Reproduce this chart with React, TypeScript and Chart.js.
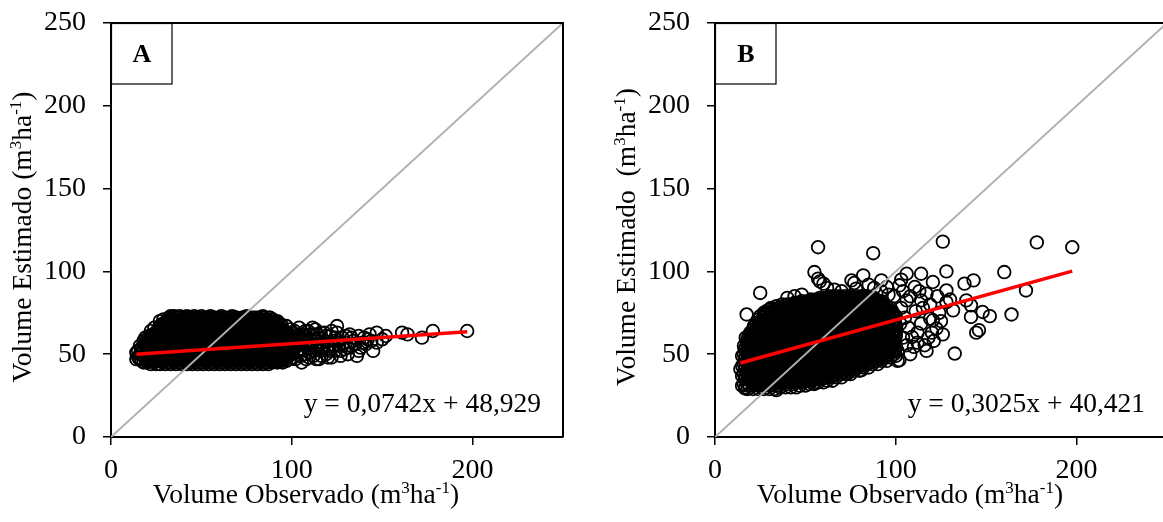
import React, { useEffect, useRef } from "react";
import { Chart, registerables } from "chart.js";

Chart.register(...registerables);

const FONT = '"Liberation Serif", "Times New Roman", serif';

// Axes
const axisMin = 0;
const axisMax = 250;
const yTickValues = [0, 50, 100, 150, 200, 250];
const xTickValues = [0, 100, 200];

// ---------- Panel A ----------
// dense cloud: [observed, [estimated values...]]
const denseA: [number, number[]][] = [
  [14, [47, 51]], [15, [48, 52]], [16, [47, 50, 55]], [17, [46, 51, 54]], [18, [45, 49, 53, 58]],
  [19, [47, 52, 56, 60]], [20, [45, 50, 54, 59]], [21, [46, 49, 57, 61]], [22, [44, 48, 53, 58, 64]],
  [23, [46, 51, 55, 62]], [24, [45, 49, 56, 60, 66]], [25, [44, 52, 58, 63]], [26, [47, 50, 55, 61, 65]],
  [27, [44, 49, 54, 59, 67, 70]], [28, [46, 52, 57, 63, 68]], [29, [45, 50, 55, 61, 66, 71]],
  [30, [44, 48, 53, 59, 64, 69]], [31, [47, 51, 57, 62, 70]], [32, [45, 49, 54, 60, 66, 72]],
  [33, [44, 50, 56, 63, 68, 73]], [34, [46, 52, 58, 61, 67, 71]], [35, [45, 48, 55, 60, 65, 70, 73]],
  [36, [44, 51, 57, 62, 69]], [37, [47, 53, 59, 64, 68, 72]], [38, [45, 49, 54, 61, 66, 73]],
  [39, [44, 50, 56, 63, 70]], [40, [46, 52, 58, 60, 67, 71]], [41, [45, 48, 55, 62, 65, 72]],
  [42, [44, 51, 57, 61, 68, 73]], [43, [47, 53, 59, 64, 70]], [44, [45, 49, 54, 60, 66, 72]],
  [45, [44, 50, 56, 63, 69]], [46, [46, 52, 58, 62, 67, 73]], [47, [45, 48, 55, 61, 65, 71]],
  [48, [44, 51, 57, 64, 70]], [49, [47, 53, 59, 63, 68, 72]], [50, [45, 49, 54, 60, 66, 73]],
  [51, [44, 50, 56, 62, 69]], [52, [46, 52, 58, 61, 67, 71]], [53, [45, 48, 55, 63, 65, 72]],
  [54, [44, 51, 57, 60, 68]], [55, [47, 53, 59, 64, 70, 73]], [56, [45, 49, 54, 62, 66]],
  [57, [44, 50, 56, 61, 69, 72]], [58, [46, 52, 58, 63, 67]], [59, [45, 48, 55, 60, 65, 71]],
  [60, [44, 51, 57, 64, 70]], [61, [47, 53, 59, 62, 68, 73]], [62, [45, 49, 54, 61, 66]],
  [63, [44, 50, 56, 63, 69, 72]], [64, [46, 52, 58, 60, 67]], [65, [45, 48, 55, 62, 65, 71]],
  [66, [44, 51, 57, 64, 70]], [67, [47, 53, 59, 61, 68, 73]], [68, [45, 49, 54, 63, 66]],
  [69, [44, 50, 56, 60, 69, 72]], [70, [46, 52, 58, 62, 67]], [71, [45, 48, 55, 64, 65, 71]],
  [72, [44, 51, 57, 61, 70]], [73, [47, 53, 59, 63, 68, 72]], [74, [45, 49, 54, 60, 66]],
  [75, [44, 50, 56, 62, 69, 73]], [76, [46, 52, 58, 64, 67]], [77, [45, 48, 55, 61, 65, 71]],
  [78, [44, 51, 57, 63, 70]], [79, [47, 53, 59, 60, 68]], [80, [45, 49, 54, 62, 66, 72]],
  [81, [44, 50, 56, 64, 69]], [82, [46, 52, 58, 61, 67, 71]], [83, [45, 48, 55, 63, 65]],
  [84, [44, 51, 57, 60, 70, 73]], [85, [47, 53, 59, 62, 68]], [86, [45, 49, 54, 64, 66, 71]],
  [87, [44, 50, 56, 61, 69]], [88, [46, 52, 58, 63, 67, 72]], [89, [45, 48, 55, 60, 65]],
  [90, [46, 51, 57, 62, 69]], [91, [47, 53, 59, 64, 67]], [92, [45, 49, 54, 61, 66, 70]],
  [93, [46, 50, 56, 63]], [94, [48, 52, 58, 60, 68]], [95, [45, 55, 62, 65]],
  [96, [47, 51, 57, 64]], [97, [46, 53, 59, 67]], [98, [49, 55, 61]], [99, [47, 52, 58, 65]],
  [100, [50, 56, 63]],
];
const denseAHalf: [number, number[]][] = [
  [20.5, [47, 53, 57]], [21.5, [46, 50, 56, 59]], [22.5, [48, 54, 60]], [23.5, [47, 53, 59]],
  [24.5, [46, 50, 56, 62]], [25.5, [48, 54, 60]], [26.5, [47, 53, 59, 63]], [27.5, [46, 50, 56, 62, 66]],
  [28.5, [48, 54, 60, 66]], [29.5, [47, 53, 59, 65, 69]], [30.5, [46, 50, 56, 62, 68]],
  [31.5, [48, 54, 60, 66, 70]], [32.5, [47, 53, 59, 65, 71]], [33.5, [46, 50, 56, 62, 68, 72]],
  [34.5, [48, 54, 60, 66, 70]], [35.5, [47, 53, 59, 65, 71]], [36.5, [46, 50, 56, 62, 68, 72]],
  [37.5, [48, 54, 60, 66, 70]], [38.5, [47, 53, 59, 65, 71]], [39.5, [46, 50, 56, 62, 68, 72]],
  [40.5, [48, 54, 60, 66, 70]], [41.5, [47, 53, 59, 65, 71]], [42.5, [46, 50, 56, 62, 68, 72]],
  [43.5, [48, 54, 60, 66, 70]], [44.5, [47, 53, 59, 65, 71]], [45.5, [46, 50, 56, 62, 68, 72]],
  [46.5, [48, 54, 60, 66, 70]], [47.5, [47, 53, 59, 65, 71]], [48.5, [46, 50, 56, 62, 68, 72]],
  [49.5, [48, 54, 60, 66, 70]], [50.5, [47, 53, 59, 65, 71]], [51.5, [46, 50, 56, 62, 68, 72]],
  [52.5, [48, 54, 60, 66, 70]], [53.5, [47, 53, 59, 65, 71]], [54.5, [46, 50, 56, 62, 68, 72]],
  [55.5, [48, 54, 60, 66, 70]], [56.5, [47, 53, 59, 65, 71]], [57.5, [46, 50, 56, 62, 68, 72]],
  [58.5, [48, 54, 60, 66, 70]], [59.5, [47, 53, 59, 65, 71]], [60.5, [46, 50, 56, 62, 68, 72]],
  [61.5, [48, 54, 60, 66, 70]], [62.5, [47, 53, 59, 65, 71]], [63.5, [46, 50, 56, 62, 68, 72]],
  [64.5, [48, 54, 60, 66, 70]], [65.5, [47, 53, 59, 65, 71]], [66.5, [46, 50, 56, 62, 68, 72]],
  [67.5, [48, 54, 60, 66, 70]], [68.5, [47, 53, 59, 65, 71]], [69.5, [46, 50, 56, 62, 68, 72]],
  [70.5, [48, 54, 60, 66, 70]], [71.5, [47, 53, 59, 65, 71]], [72.5, [46, 50, 56, 62, 68, 72]],
  [73.5, [48, 54, 60, 66, 70]], [74.5, [47, 53, 59, 65, 71]], [75.5, [46, 50, 56, 62, 68, 72]],
  [76.5, [48, 54, 60, 66, 70]], [77.5, [47, 53, 59, 65, 71]], [78.5, [46, 50, 56, 62, 68, 72]],
  [79.5, [48, 54, 60, 66, 70]], [80.5, [47, 53, 59, 65, 71]], [81.5, [46, 50, 56, 62, 68, 72]],
  [82.5, [48, 54, 60, 66, 70]], [83.5, [47, 53, 59, 65, 71]], [84.5, [46, 50, 56, 62, 68, 72]],
  [85.5, [48, 54, 60, 66, 70]], [86.5, [47, 53, 59, 65, 71]], [87.5, [46, 50, 56, 62, 68, 72]],
  [88.5, [48, 54, 60, 66, 70]], [89.5, [47, 53, 59, 65, 71]], [90.5, [46, 50, 56, 62, 68]],
  [91.5, [48, 54, 60, 66]], [92.5, [47, 53, 59, 65, 69]], [93.5, [47, 53, 59, 65]],
  [94.5, [46, 50, 56, 62, 67]], [95.5, [48, 54, 60, 64]], [96.5, [49, 55, 61]], [97.5, [51, 57, 63]],
];
// sparse points: [observed, estimated]
const sparseA: [number, number][] = [
  [101, 48], [102, 54], [102, 61], [103, 51], [104, 57], [104, 66], [105, 49], [106, 53], [106, 62],
  [107, 59], [108, 47], [108, 55], [109, 64], [110, 51], [111, 58], [112, 49], [112, 62], [113, 65],
  [114, 54], [115, 47], [115, 60], [116, 52], [117, 57], [118, 63], [119, 50], [120, 55], [121, 61],
  [122, 48], [123, 58], [124, 52], [125, 67], [125, 63], [126, 55], [127, 49], [128, 60], [129, 53],
  [130, 57], [131, 50], [132, 62], [133, 55], [134, 58], [136, 49], [137, 61], [138, 54], [140, 60],
  [141, 56], [143, 62], [144, 58], [145, 52], [147, 57], [147, 63], [150, 59], [152, 61], [161, 63],
  [164, 62], [172, 60], [178, 64], [197, 64],
  [100.5, 52], [101, 59], [101.5, 64], [102, 47], [103, 57], [103.5, 62], [104, 53], [105, 60],
  [105.5, 45], [106, 58], [107, 50], [107.5, 64], [108, 61], [109, 53], [109.5, 48], [110, 57],
  [110.5, 62], [111, 54], [111.5, 66], [112, 52], [113, 59], [113.5, 47], [114, 62], [115, 56],
  [116, 63], [116.5, 49], [117, 54], [118, 58], [119, 61], [119.5, 53], [120, 48], [121, 52],
  [122, 64], [123, 55], [124, 60], [126, 58], [127, 52], [128, 56], [130, 61], [131, 54], [133, 60],
  [135, 56], [137, 52], [139, 57], [142, 59],
];
const slopeA = 0.0742;
const interceptA = 48.929;
const equationA = "y = 0,0742x + 48,929";

// ---------- Panel B ----------
const denseB: [number, number[]][] = [
  [14, [41]], [15, [31, 37, 43, 49]], [16, [32, 38, 44, 50, 55]], [17, [30, 36, 42, 48, 54, 60]],
  [18, [29, 35, 41, 47, 53, 59]], [19, [31, 37, 43, 49, 55, 61]], [20, [33, 39, 45, 51, 57, 63]],
  [21, [29, 35, 41, 47, 53, 59, 65]], [22, [31, 37, 43, 49, 55, 61, 67]], [23, [33, 39, 45, 51, 57, 63, 69]],
  [24, [29, 35, 41, 47, 53, 59, 65, 71]], [25, [31, 37, 43, 49, 55, 61, 67, 73]], [26, [33, 39, 45, 51, 57, 63, 69]],
  [27, [29, 35, 41, 47, 53, 59, 65, 71, 75]], [28, [31, 37, 43, 49, 55, 61, 67, 73]], [29, [33, 39, 45, 51, 57, 63, 69, 75]],
  [30, [29, 35, 41, 47, 53, 59, 65, 71, 77]], [31, [31, 37, 43, 49, 55, 61, 67, 73, 78]], [32, [33, 39, 45, 51, 57, 63, 69, 75]],
  [33, [29, 35, 41, 47, 53, 59, 65, 71, 77]], [34, [31, 37, 43, 49, 55, 61, 67, 73, 79]], [35, [33, 39, 45, 51, 57, 63, 69, 75]],
  [36, [30, 36, 42, 48, 54, 60, 66, 72, 78]], [37, [32, 38, 44, 50, 56, 62, 68, 74, 80]], [38, [34, 40, 46, 52, 58, 64, 70, 76]],
  [39, [30, 36, 42, 48, 54, 60, 66, 72, 78]], [40, [32, 38, 44, 50, 56, 62, 68, 74, 80]], [41, [34, 40, 46, 52, 58, 64, 70, 76]],
  [42, [30, 36, 42, 48, 54, 60, 66, 72, 78]], [43, [32, 38, 44, 50, 56, 62, 68, 74, 80]], [44, [34, 40, 46, 52, 58, 64, 70, 76, 81]],
  [45, [30, 36, 42, 48, 54, 60, 66, 72, 78]], [46, [33, 39, 45, 51, 57, 63, 69, 75, 81]], [47, [31, 37, 43, 49, 55, 61, 67, 73, 79]],
  [48, [35, 41, 47, 53, 59, 65, 71, 77, 82]], [49, [33, 39, 45, 51, 57, 63, 69, 75, 81]], [50, [31, 37, 43, 49, 55, 61, 67, 73, 79]],
  [51, [34, 40, 46, 52, 58, 64, 70, 76, 82]], [52, [32, 38, 44, 50, 56, 62, 68, 74, 80]], [53, [36, 42, 48, 54, 60, 66, 72, 78, 83]],
  [54, [34, 40, 46, 52, 58, 64, 70, 76, 82]], [55, [32, 38, 44, 50, 56, 62, 68, 74, 80]], [56, [35, 41, 47, 53, 59, 65, 71, 77, 83]],
  [57, [33, 39, 45, 51, 57, 63, 69, 75, 81]], [58, [37, 43, 49, 55, 61, 67, 73, 79, 84]], [59, [35, 41, 47, 53, 59, 65, 71, 77, 83]],
  [60, [33, 39, 45, 51, 57, 63, 69, 75, 81]], [61, [36, 42, 48, 54, 60, 66, 72, 78, 84]], [62, [34, 40, 46, 52, 58, 64, 70, 76, 82]],
  [63, [38, 44, 50, 56, 62, 68, 74, 80, 85]], [64, [36, 42, 48, 54, 60, 66, 72, 78, 84]], [65, [34, 40, 46, 52, 58, 64, 70, 76, 82]],
  [66, [38, 44, 50, 56, 62, 68, 74, 80, 85]], [67, [36, 42, 48, 54, 60, 66, 72, 78, 84]], [68, [40, 46, 52, 58, 64, 70, 76, 82]],
  [69, [38, 44, 50, 56, 62, 68, 74, 80, 85]], [70, [36, 42, 48, 54, 60, 66, 72, 78, 84]], [71, [40, 46, 52, 58, 64, 70, 76, 82]],
  [72, [38, 44, 50, 56, 62, 68, 74, 80, 85]], [73, [42, 48, 54, 60, 66, 72, 78, 84]], [74, [40, 46, 52, 58, 64, 70, 76, 82]],
  [75, [38, 44, 50, 56, 62, 68, 74, 80, 85]], [76, [42, 48, 54, 60, 66, 72, 78, 84]], [77, [40, 46, 52, 58, 64, 70, 76, 82]],
  [78, [44, 50, 56, 62, 68, 74, 80, 85]], [79, [42, 48, 54, 60, 66, 72, 78, 84]], [80, [40, 46, 52, 58, 64, 70, 76, 82]],
  [81, [44, 50, 56, 62, 68, 74, 80, 85]], [82, [42, 48, 54, 60, 66, 72, 78, 84]], [83, [46, 52, 58, 64, 70, 76, 82]],
  [84, [44, 50, 56, 62, 68, 74, 80, 85]], [85, [42, 48, 54, 60, 66, 72, 78, 84]], [86, [46, 52, 58, 64, 70, 76, 82]],
  [87, [44, 50, 56, 62, 68, 74, 80]], [88, [48, 54, 60, 66, 72, 78, 84]], [89, [46, 52, 58, 64, 70, 76, 82]],
  [90, [44, 50, 56, 62, 68, 74, 80]], [91, [48, 54, 60, 66, 72, 78]], [92, [46, 52, 58, 64, 70, 76, 82]],
  [93, [50, 56, 62, 68, 74, 80]], [94, [48, 54, 60, 66, 72, 78]], [95, [46, 52, 58, 64, 70, 76]],
  [96, [50, 56, 62, 68, 74]], [97, [48, 54, 60, 66, 72, 78]], [98, [52, 58, 64, 70, 76]],
  [99, [50, 56, 62, 68, 74]], [100, [49, 55, 61, 67, 73]],
];
const denseBHalf: [number, number[]][] = [
  [16.5, [35, 41, 47, 53]], [17.5, [33, 39, 45, 51, 57]], [18.5, [32, 38, 44, 50, 56, 61]],
  [19.5, [34, 40, 46, 52, 58, 63]], [20.5, [36, 42, 48, 54, 60]], [21.5, [32, 38, 44, 50, 56, 62, 67]],
  [22.5, [34, 40, 46, 52, 58, 64]], [23.5, [36, 42, 48, 54, 60, 66]], [24.5, [32, 38, 44, 50, 56, 62, 68]],
  [25.5, [34, 40, 46, 52, 58, 64, 70]], [26.5, [36, 42, 48, 54, 60, 66, 72]], [27.5, [32, 38, 44, 50, 56, 62, 68, 74]],
  [28.5, [34, 40, 46, 52, 58, 64, 70, 76]], [29.5, [36, 42, 48, 54, 60, 66, 72]], [30.5, [32, 38, 44, 50, 56, 62, 68, 74]],
  [31.5, [34, 40, 46, 52, 58, 64, 70, 76]], [32.5, [36, 42, 48, 54, 60, 66, 72, 77]], [33.5, [32, 38, 44, 50, 56, 62, 68, 74]],
  [34.5, [34, 40, 46, 52, 58, 64, 70, 76]], [35.5, [36, 42, 48, 54, 60, 66, 72, 78]], [36.5, [33, 39, 45, 51, 57, 63, 69, 75]],
  [37.5, [35, 41, 47, 53, 59, 65, 71, 77]], [38.5, [37, 43, 49, 55, 61, 67, 73, 79]], [39.5, [33, 39, 45, 51, 57, 63, 69, 75]],
  [40.5, [35, 41, 47, 53, 59, 65, 71, 77]], [41.5, [37, 43, 49, 55, 61, 67, 73, 79]], [42.5, [33, 39, 45, 51, 57, 63, 69, 75]],
  [43.5, [35, 41, 47, 53, 59, 65, 71, 77]], [44.5, [37, 43, 49, 55, 61, 67, 73, 79]], [45.5, [33, 39, 45, 51, 57, 63, 69, 75, 80]],
  [46.5, [36, 42, 48, 54, 60, 66, 72, 78]], [47.5, [34, 40, 46, 52, 58, 64, 70, 76]], [48.5, [38, 44, 50, 56, 62, 68, 74, 80]],
  [49.5, [36, 42, 48, 54, 60, 66, 72, 78]], [50.5, [34, 40, 46, 52, 58, 64, 70, 76, 81]], [51.5, [37, 43, 49, 55, 61, 67, 73, 79]],
  [52.5, [35, 41, 47, 53, 59, 65, 71, 77, 82]], [53.5, [39, 45, 51, 57, 63, 69, 75, 81]], [54.5, [37, 43, 49, 55, 61, 67, 73, 79]],
  [55.5, [35, 41, 47, 53, 59, 65, 71, 77, 82]], [56.5, [38, 44, 50, 56, 62, 68, 74, 80]], [57.5, [36, 42, 48, 54, 60, 66, 72, 78, 83]],
  [58.5, [40, 46, 52, 58, 64, 70, 76, 82]], [59.5, [38, 44, 50, 56, 62, 68, 74, 80]], [60.5, [36, 42, 48, 54, 60, 66, 72, 78, 83]],
  [61.5, [39, 45, 51, 57, 63, 69, 75, 81]], [62.5, [37, 43, 49, 55, 61, 67, 73, 79, 84]], [63.5, [41, 47, 53, 59, 65, 71, 77, 83]],
  [64.5, [39, 45, 51, 57, 63, 69, 75, 81]], [65.5, [37, 43, 49, 55, 61, 67, 73, 79, 84]], [66.5, [41, 47, 53, 59, 65, 71, 77, 83]],
  [67.5, [39, 45, 51, 57, 63, 69, 75, 81]], [68.5, [43, 49, 55, 61, 67, 73, 79, 84]], [69.5, [41, 47, 53, 59, 65, 71, 77, 83]],
  [70.5, [39, 45, 51, 57, 63, 69, 75, 81]], [71.5, [43, 49, 55, 61, 67, 73, 79, 84]], [72.5, [41, 47, 53, 59, 65, 71, 77, 83]],
  [73.5, [45, 51, 57, 63, 69, 75, 81]], [74.5, [43, 49, 55, 61, 67, 73, 79, 84]], [75.5, [41, 47, 53, 59, 65, 71, 77, 83]],
  [76.5, [45, 51, 57, 63, 69, 75, 81]], [77.5, [43, 49, 55, 61, 67, 73, 79, 84]], [78.5, [47, 53, 59, 65, 71, 77, 83]],
  [79.5, [45, 51, 57, 63, 69, 75, 81]], [80.5, [43, 49, 55, 61, 67, 73, 79, 84]], [81.5, [47, 53, 59, 65, 71, 77, 83]],
  [82.5, [45, 51, 57, 63, 69, 75, 81]], [83.5, [49, 55, 61, 67, 73, 79, 84]], [84.5, [47, 53, 59, 65, 71, 77, 83]],
  [85.5, [45, 51, 57, 63, 69, 75, 81]], [86.5, [49, 55, 61, 67, 73, 79]], [87.5, [47, 53, 59, 65, 71, 77, 83]],
  [88.5, [51, 57, 63, 69, 75, 81]], [89.5, [49, 55, 61, 67, 73, 79]], [90.5, [47, 53, 59, 65, 71, 77, 82]],
  [91.5, [51, 57, 63, 69, 75, 80]], [92.5, [49, 55, 61, 67, 73, 79]], [93.5, [53, 59, 65, 71, 77]],
  [94.5, [51, 57, 63, 69, 75]], [95.5, [49, 55, 61, 67, 73, 78]], [96.5, [53, 59, 65, 71, 76]],
  [97.5, [51, 57, 63, 69, 75]], [98.5, [55, 61, 67, 73]], [99.5, [52, 58, 64, 70]],
];
const sparseB: [number, number][] = [
  [57, 114.6], [87.5, 111], [126, 118], [178, 117.5], [197.6, 114.6], [160, 99.6], [172, 88.5], [164, 74],
  [132.6, 50.4], [146, 64.5], [144.5, 63], [152, 73], [148, 75.5], [143, 94.6], [138, 92.6], [128, 100],
  [128, 88.5], [128, 81.5], [120.5, 93.6], [123, 85], [114, 98.6], [114, 82.5], [106, 98.6], [106, 82.5],
  [102, 91.6], [110.5, 90.6], [117, 86.5], [131.7, 76.5], [139, 82.5], [141.6, 79.5], [141.6, 72.5],
  [120.5, 70.5], [122.5, 65.5], [119, 71.5], [116, 55.4], [110, 54.4], [106, 55.4], [102, 46.4],
  [109, 60.4], [114, 68.5], [102.5, 68.5], [98.5, 74.5], [95, 90.6], [92, 94.6], [82, 97.6], [75.5, 94.6],
  [78, 89.6], [55, 99.6], [57, 95.6], [60, 92.6], [25, 87], [17.5, 74], [16.6, 29.3], [34, 28.3],
  [54.3, 32.3], [81, 40.4], [101, 46], [73, 38], [100, 62], [103, 78], [105, 72], [107, 66], [108, 85],
  [111, 76], [112, 63], [115, 78], [118, 60], [119, 80], [121, 58], [124, 75], [125, 70], [126, 62],
  [113, 88], [104, 88], [99, 85], [97, 58], [101, 52], [104, 60], [108, 50], [112, 57], [117, 52],
  [120, 63], [96, 86], [103, 95], [92, 88], [85, 92], [88, 90], [130, 83], [58, 94], [77, 93], [62, 90],
  [48, 86], [44, 85], [40, 84], [70, 88], [66, 89],
];
const slopeB = 0.3025;
const interceptB = 40.421;
const equationB = "y = 0,3025x + 40,421";

type Seg = { t: string; sup?: boolean };
const xTitle: Seg[] = [{ t: "Volume Observado (m" }, { t: "3", sup: true }, { t: "ha" }, { t: "-1", sup: true }, { t: ")" }];
const yTitleA: Seg[] = [{ t: "Volume Estimado (m" }, { t: "3", sup: true }, { t: "ha" }, { t: "-1", sup: true }, { t: ")" }];
const yTitleB: Seg[] = [{ t: "Volume Estimado  (m" }, { t: "3", sup: true }, { t: "ha" }, { t: "-1", sup: true }, { t: ")" }];

type Panel = {
  label: string;
  dense: [number, number[]][][];
  sparse: [number, number][];
  slope: number;
  intercept: number;
  equation: string;
  yTitle: Seg[];
  yAxisWidth: number;
  padRight: number;
};

const panels: Panel[] = [
  { label: "A", dense: [denseA, denseAHalf], sparse: sparseA, slope: slopeA, intercept: interceptA, equation: equationA, yTitle: yTitleA, yAxisWidth: 111, padRight: 27 },
  { label: "B", dense: [denseB, denseBHalf], sparse: sparseB, slope: slopeB, intercept: interceptB, equation: equationB, yTitle: yTitleB, yAxisWidth: 125, padRight: 13 },
];

const FS = 27.5;
const TICK_FS = 28;

function drawSegs(ctx: CanvasRenderingContext2D, segs: Seg[], cx: number, baseY: number, size: number) {
  const supSize = Math.round(size * 0.62);
  let total = 0;
  const widths = segs.map((s) => {
    ctx.font = `${s.sup ? supSize : size}px ${FONT}`;
    const w = ctx.measureText(s.t).width;
    total += w;
    return w;
  });
  let x = cx - total / 2;
  ctx.textAlign = "left";
  ctx.textBaseline = "alphabetic";
  segs.forEach((s, i) => {
    ctx.font = `${s.sup ? supSize : size}px ${FONT}`;
    ctx.fillText(s.t, x, s.sup ? baseY - size * 0.38 : baseY);
    x += widths[i];
  });
}

function makeDecor(p: Panel) {
  return {
    id: "decor" + p.label,
    afterDraw(chart: any) {
      const ctx: CanvasRenderingContext2D = chart.ctx;
      const a = chart.chartArea;
      ctx.save();
      ctx.strokeStyle = "#000";
      ctx.lineWidth = 2;
      ctx.beginPath();
      ctx.moveTo(a.left, a.top);
      ctx.lineTo(a.right, a.top);
      ctx.lineTo(a.right, a.bottom);
      ctx.stroke();
      // label box
      ctx.fillStyle = "#fff";
      ctx.fillRect(a.left, a.top, 61, 61);
      ctx.lineWidth = 1.2;
      ctx.strokeRect(a.left + 0.5, a.top + 0.5, 60.5, 60.5);
      ctx.fillStyle = "#000";
      ctx.font = `bold 26px ${FONT}`;
      ctx.textAlign = "center";
      ctx.textBaseline = "middle";
      ctx.fillText(p.label, a.left + 31, a.top + 32);
      // equation
      ctx.font = `${FS}px ${FONT}`;
      ctx.textAlign = "right";
      ctx.textBaseline = "alphabetic";
      ctx.fillText(p.equation, a.right - 22, a.bottom - 25);
      // x title
      drawSegs(ctx, xTitle, (a.left + a.right) / 2 - 31, a.bottom + 66, FS);
      // y title
      ctx.translate(a.left - 80, (a.top + a.bottom) / 2 + 7);
      ctx.rotate(-Math.PI / 2);
      drawSegs(ctx, p.yTitle, 0, 0, FS);
      ctx.restore();
    },
  };
}

function makeConfig(p: Panel): any {
  const pts: { x: number; y: number }[] = [];
  p.dense.forEach((cols) => cols.forEach(([x, ys]) => ys.forEach((y) => pts.push({ x, y }))));
  p.sparse.forEach(([x, y]) => pts.push({ x, y }));
  const xs = pts.map((q) => q.x);
  const xmin = Math.min(...xs);
  const xmax = Math.max(...xs);
  const tickFont = { family: FONT, size: TICK_FS };
  const zeroPad = (s: any) => {
    s.paddingTop = 0;
    s.paddingBottom = 0;
    s.paddingLeft = 0;
    s.paddingRight = 0;
  };
  return {
    type: "scatter",
    data: {
      datasets: [
        {
          type: "line",
          data: [
            { x: xmin, y: p.slope * xmin + p.intercept },
            { x: xmax, y: p.slope * xmax + p.intercept },
          ],
          borderColor: "#ff0000",
          borderWidth: 3.5,
          pointRadius: 0,
          order: 1,
        },
        {
          type: "line",
          data: [
            { x: axisMin, y: axisMin },
            { x: axisMax, y: axisMax },
          ],
          borderColor: "#b0b0b0",
          borderWidth: 2,
          pointRadius: 0,
          order: 2,
        },
        {
          data: pts,
          pointRadius: 6.3,
          pointBorderWidth: 1.8,
          pointBorderColor: "#000",
          pointBackgroundColor: "rgba(0,0,0,0)",
          order: 3,
        },
      ],
    },
    options: {
      animation: false,
      responsive: false,
      events: [],
      layout: { padding: { left: 0, right: p.padRight, top: 23, bottom: 0 } },
      plugins: { legend: { display: false }, tooltip: { enabled: false } },
      scales: {
        x: {
          type: "linear",
          min: axisMin,
          max: axisMax,
          afterBuildTicks: (s: any) => {
            s.ticks = xTickValues.map((v) => ({ value: v }));
          },
          afterFit: (s: any) => {
            s.height = 85;
            zeroPad(s);
          },
          grid: { drawOnChartArea: false, drawTicks: true, tickLength: 8, color: "#000", lineWidth: 1.5 },
          border: { display: true, color: "#000", width: 2 },
          ticks: { font: tickFont, color: "#000", padding: 9, maxRotation: 0, autoSkip: false },
        },
        y: {
          type: "linear",
          min: axisMin,
          max: axisMax,
          afterBuildTicks: (s: any) => {
            s.ticks = yTickValues.map((v) => ({ value: v }));
          },
          afterFit: (s: any) => {
            s.width = p.yAxisWidth;
            zeroPad(s);
          },
          grid: { drawOnChartArea: false, drawTicks: true, tickLength: 8, color: "#000", lineWidth: 1.5 },
          border: { display: true, color: "#000", width: 2 },
          ticks: { font: tickFont, color: "#000", padding: 17, autoSkip: false },
        },
      },
    },
    plugins: [makeDecor(p)],
  };
}

export default function App() {
  const refA = useRef<HTMLCanvasElement>(null);
  const refB = useRef<HTMLCanvasElement>(null);
  useEffect(() => {
    const charts: Chart[] = [];
    [refA, refB].forEach((r, i) => {
      if (r.current) charts.push(new Chart(r.current, makeConfig(panels[i])));
    });
    return () => charts.forEach((c) => c.destroy());
  }, []);
  return (
    <div style={{ position: "absolute", left: 0, top: 0, width: 1163, height: 522, overflow: "hidden", background: "#fff" }}>
      <canvas ref={refA} width={590} height={522} style={{ position: "absolute", left: 0, top: 0, width: 590, height: 522 }} />
      <canvas ref={refB} width={590} height={522} style={{ position: "absolute", left: 590, top: 0, width: 590, height: 522 }} />
    </div>
  );
}
